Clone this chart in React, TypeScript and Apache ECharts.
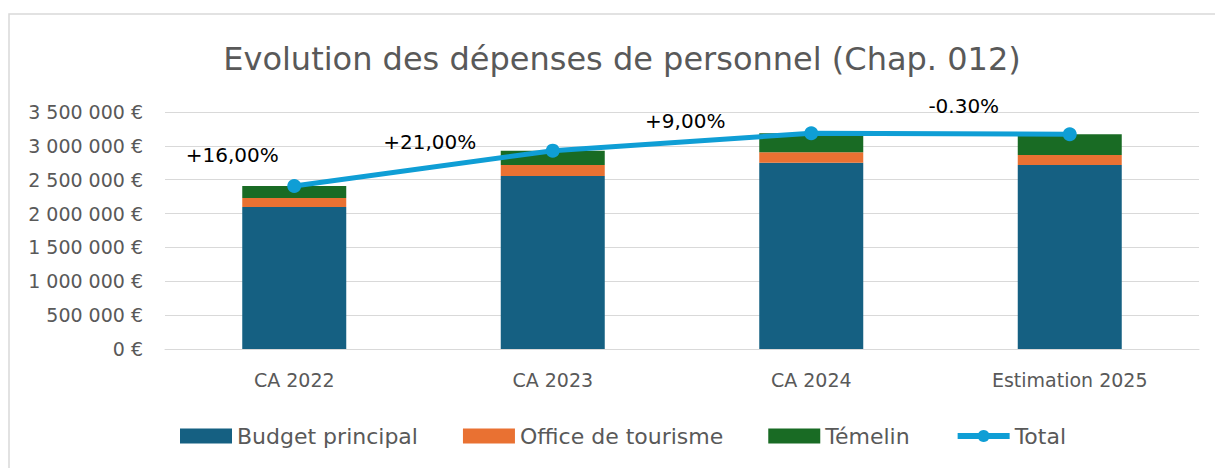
import React, { useEffect, useRef } from "react";
import * as echarts from "echarts";

const categories = ["CA 2022", "CA 2023", "CA 2024", "Estimation 2025"];
const budgetPrincipal = [2097000, 2555000, 2751000, 2717000];
const officeTourisme = [133000, 162000, 154000, 148000];
const temelin = [177000, 212000, 281000, 306000];
const changeLabels = ["+16,00%", "+21,00%", "+9,00%", "-0.30%"];
const yMin = 0;
const yMax = 3500000;
const yInterval = 500000;

const totals = categories.map(
  (_, i) => budgetPrincipal[i] + officeTourisme[i] + temelin[i]
);

// label placement (layout, not data)
const labelOffsets: [number, number][] = [
  [-62, -31],
  [-123, -9],
  [-126, -12],
  [-106, -28],
];

const FONT = "DejaVu Sans";
const GREY = "#595959";

function fmt(v: number): string {
  return String(v).replace(/\B(?=(\d{3})+(?!\d))/g, " ") + " €";
}

export default function App() {
  const ref = useRef<HTMLDivElement>(null);
  useEffect(() => {
    if (!ref.current) return;
    const chart = echarts.init(ref.current, null, { renderer: "svg" });
    chart.setOption({
      animation: false,
      backgroundColor: "#ffffff",
      textStyle: { fontFamily: FONT },
      title: {
        text: "Evolution des dépenses de personnel (Chap. 012)",
        left: 617,
        textAlign: "center",
        top: 38,
        textStyle: {
          fontFamily: FONT,
          fontSize: 32,
          fontWeight: "normal",
          color: GREY,
        },
      },
      graphic: [
        {
          type: "rect",
          shape: { x: 9, y: 14, width: 1230, height: 480 },
          style: { fill: "none", stroke: "#d9d9d9", lineWidth: 1.5 },
          silent: true,
        },
      ],
      legend: {
        left: 175,
        top: 420,
        itemWidth: 52,
        itemHeight: 15,
        itemGap: 45,
        textStyle: { fontFamily: FONT, fontSize: 22, color: GREY },
        data: [
          { name: "Budget principal", icon: "rect" },
          { name: "Office de tourisme", icon: "rect" },
          { name: "Témelin", icon: "rect" },
          { name: "Total", lineStyle: { width: 6 } },
        ],
      },
      grid: { left: 165, right: 16, top: 112, bottom: 119, containLabel: false },
      xAxis: {
        type: "category",
        data: categories,
        axisLine: { lineStyle: { color: "#d9d9d9", width: 1 } },
        axisTick: { show: false },
        axisLabel: {
          fontFamily: FONT,
          fontSize: 19,
          color: GREY,
          margin: 21,
        },
      },
      yAxis: {
        type: "value",
        min: yMin,
        max: yMax,
        interval: yInterval,
        axisLine: { show: false },
        axisTick: { show: false },
        splitLine: { lineStyle: { color: "#d9d9d9", width: 1 } },
        axisLabel: {
          fontFamily: FONT,
          fontSize: 19,
          color: GREY,
          margin: 22,
          formatter: (v: number) => fmt(v),
        },
      },
      series: [
        {
          name: "Budget principal",
          type: "bar",
          stack: "total",
          barWidth: 104,
          itemStyle: { color: "#156082" },
          data: budgetPrincipal,
        },
        {
          name: "Office de tourisme",
          type: "bar",
          stack: "total",
          barWidth: 104,
          itemStyle: { color: "#e97132" },
          data: officeTourisme,
        },
        {
          name: "Témelin",
          type: "bar",
          stack: "total",
          barWidth: 104,
          itemStyle: { color: "#196b24" },
          data: temelin,
        },
        {
          name: "Total",
          type: "line",
          z: 5,
          symbol: "circle",
          symbolSize: 14,
          lineStyle: { color: "#0f9ed5", width: 5 },
          itemStyle: { color: "#0f9ed5" },
          data: totals.map((v, i) => ({
            value: v,
            label: {
              show: true,
              position: "inside",
              offset: labelOffsets[i],
              formatter: changeLabels[i],
              fontFamily: FONT,
              fontSize: 20,
              color: "#000000",
            },
          })),
        },
      ],
    });
    return () => chart.dispose();
  }, []);
  return (
    <div
      ref={ref}
      style={{ position: "absolute", left: 0, top: 0, width: 1215, height: 468 }}
    />
  );
}
